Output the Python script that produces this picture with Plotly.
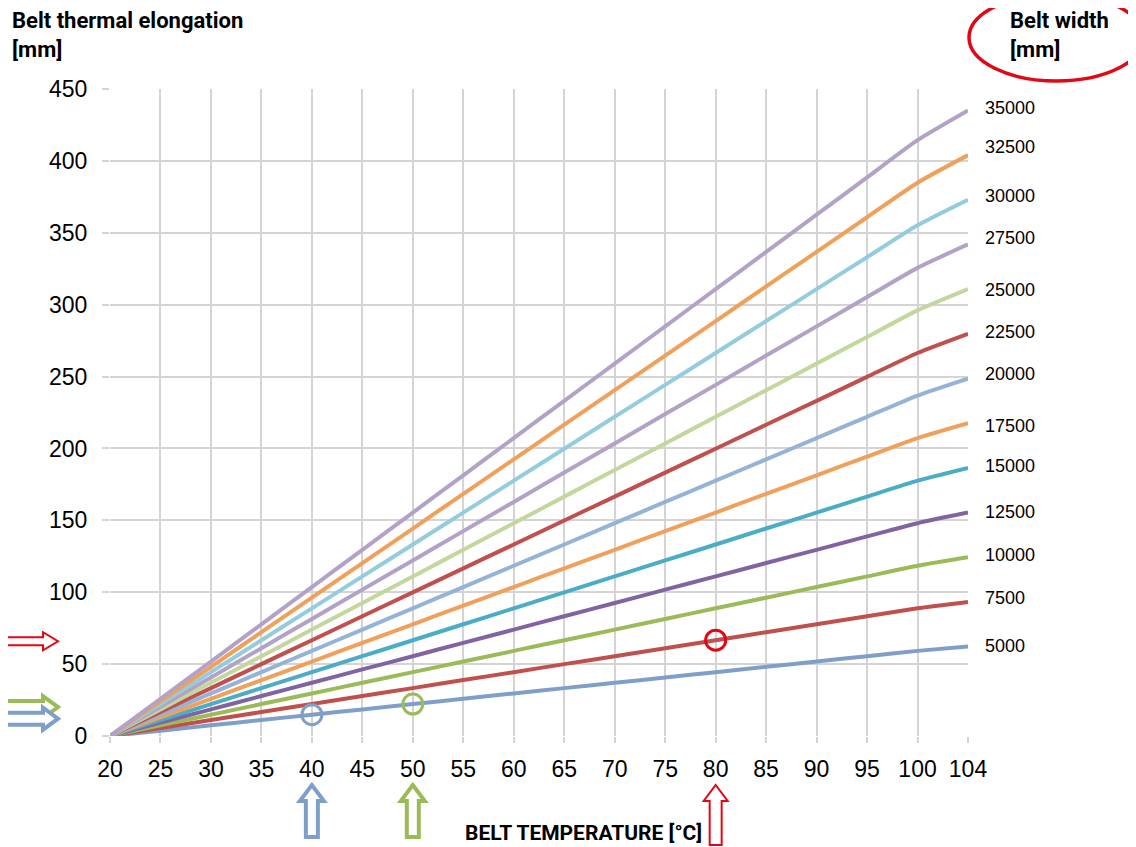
import plotly.graph_objects as go

# belt temperature categories (°C) - equally spaced on the chart, incl. 104
temps = ["20", "25", "30", "35", "40", "45", "50", "55", "60", "65",
         "70", "75", "80", "85", "90", "95", "100", "104"]

# thermal elongation [mm] per belt width [mm]
w5000 = [0, 3.7, 7.4, 11.1, 14.8, 18.5, 22.2, 25.9, 29.6, 33.3, 37.0, 40.7, 44.4, 48.1, 51.8, 55.5, 59.2, 62.2]
w7500 = [0, 5.6, 11.1, 16.7, 22.2, 27.8, 33.3, 38.9, 44.4, 50.0, 55.5, 61.1, 66.6, 72.2, 77.7, 83.3, 88.8, 93.2]
w10000 = [0, 7.4, 14.8, 22.2, 29.6, 37.0, 44.4, 51.8, 59.2, 66.6, 74.0, 81.4, 88.8, 96.2, 103.6, 111.0, 118.4, 124.3]
w12500 = [0, 9.3, 18.5, 27.8, 37.0, 46.3, 55.5, 64.8, 74.0, 83.3, 92.5, 101.8, 111.0, 120.3, 129.5, 138.8, 148.0, 155.4]
w15000 = [0, 11.1, 22.2, 33.3, 44.4, 55.5, 66.6, 77.7, 88.8, 99.9, 111.0, 122.1, 133.2, 144.3, 155.4, 166.5, 177.6, 186.5]
w17500 = [0, 13.0, 25.9, 38.9, 51.8, 64.8, 77.7, 90.7, 103.6, 116.6, 129.5, 142.5, 155.4, 168.4, 181.3, 194.3, 207.2, 217.6]
w20000 = [0, 14.8, 29.6, 44.4, 59.2, 74.0, 88.8, 103.6, 118.4, 133.2, 148.0, 162.8, 177.6, 192.4, 207.2, 222.0, 236.8, 248.6]
w22500 = [0, 16.7, 33.3, 50.0, 66.6, 83.3, 99.9, 116.6, 133.2, 149.9, 166.5, 183.2, 199.8, 216.5, 233.1, 249.8, 266.4, 279.7]
w25000 = [0, 18.5, 37.0, 55.5, 74.0, 92.5, 111.0, 129.5, 148.0, 166.5, 185.0, 203.5, 222.0, 240.5, 259.0, 277.5, 296.0, 310.8]
w27500 = [0, 20.4, 40.7, 61.1, 81.4, 101.8, 122.1, 142.5, 162.8, 183.2, 203.5, 223.9, 244.2, 264.6, 284.9, 305.3, 325.6, 341.9]
w30000 = [0, 22.2, 44.4, 66.6, 88.8, 111.0, 133.2, 155.4, 177.6, 199.8, 222.0, 244.2, 266.4, 288.6, 310.8, 333.0, 355.2, 373.0]
w32500 = [0, 24.1, 48.1, 72.2, 96.2, 120.3, 144.3, 168.4, 192.4, 216.5, 240.5, 264.6, 288.6, 312.7, 336.7, 360.8, 384.8, 404.0]
w35000 = [0, 25.9, 51.8, 77.7, 103.6, 129.5, 155.4, 181.3, 207.2, 233.1, 259.0, 284.9, 310.8, 336.7, 362.6, 388.5, 414.4, 435.1]

widths = ["5000", "7500", "10000", "12500", "15000", "17500", "20000",
          "22500", "25000", "27500", "30000", "32500", "35000"]
series = [w5000, w7500, w10000, w12500, w15000, w17500, w20000,
          w22500, w25000, w27500, w30000, w32500, w35000]
colors = ["#7F9FC9", "#C0504D", "#9BBB59", "#8064A2", "#4BACC6", "#F0A05A", "#95B3D7",
          "#C0504D", "#C3D69B", "#B3A2C7", "#93CDDD", "#F0A05A", "#B3A2C7"]
# small vertical nudges (px) of the width labels, as placed in the original
label_nudge = [1, 4, 2, 1, 2, -3, 5, 2, -1, 6, 4, 8, 2]

BLUE, GREEN, RED = "#7F9FC9", "#9BBB59", "#E30613"
# worked examples marked on the chart: (temperature, series, colour)
examples = [("40", w5000, BLUE), ("50", w5000, GREEN), ("80", w7500, RED)]

TITLE_FONT = "Liberation Sans Narrow, Arial Narrow, Roboto, sans-serif"
NUM_FONT = "Liberation Sans, Arial, sans-serif"

fig = go.Figure()
for name, vals, col in zip(widths, series, colors):
    fig.add_trace(go.Scatter(x=temps, y=vals, mode="lines", name=name,
                             line=dict(color=col, width=4, shape="spline", smoothing=0.6)))

for t, vals, col in examples:
    fig.add_trace(go.Scatter(x=[t], y=[vals[temps.index(t)]], mode="markers", showlegend=False,
                             marker=dict(symbol="circle-open", size=20, color=col,
                                         line=dict(width=3, color=col)),
                             cliponaxis=False))

# belt width labels at the right end of each line (category axis -> use index)
last = len(temps) - 1
for name, vals, nudge in zip(widths, series, label_nudge):
    fig.add_annotation(x=last, y=vals[-1], text=name, showarrow=False,
                       xanchor="left", xshift=15, yshift=nudge,
                       font=dict(family=NUM_FONT, size=18, color="black"))


def arrow(length, shaft, head, head_len, direction):
    """hollow block arrow path in pixels, tail at origin"""
    s, h, L, hl = shaft / 2, head / 2, length, head_len
    pts = [(0, -s), (L - hl, -s), (L - hl, -h), (L, 0), (L - hl, h), (L - hl, s), (0, s)]
    if direction == "up":
        pts = [(y, x) for x, y in pts]
    return pts


def path(pts, dx, dy):
    return "M " + " L ".join(f"{x + dx},{y + dy}" for x, y in pts) + " Z"


# horizontal arrows on the left, pointing at the read-off elongation
for yval, dy, col, lw, shaft, head in [(w7500[12], -1, RED, 2, 8, 18),
                                       (w5000[6], -3, GREEN, 4, 12, 22),
                                       (w5000[4], -4, BLUE, 4, 12, 22)]:
    fig.add_shape(type="path", xref="paper", yref="y", xsizemode="pixel", ysizemode="pixel",
                  xanchor=0, yanchor=yval, path=path(arrow(52, shaft, head, 15, "right"), -104, dy),
                  line=dict(color=col, width=lw), fillcolor="white", layer="above")

# vertical arrows below the temperature axis
for t, col, lw, L in [("40", BLUE, 4, 52), ("50", GREEN, 4, 52), ("80", RED, 2, 60)]:
    fig.add_shape(type="path", xref="x", yref="paper", xsizemode="pixel", ysizemode="pixel",
                  xanchor=temps.index(t), yanchor=0, path=path(arrow(L, 12, 24, 16, "up"), 0, -49 - L),
                  line=dict(color=col, width=lw), fillcolor="white", layer="above")

# red ellipse round the belt width heading
fig.add_shape(type="circle", xref="paper", yref="paper", xsizemode="pixel", ysizemode="pixel",
              xanchor=1, yanchor=1, x0=1, x1=176, y0=8, y1=95,
              line=dict(color=RED, width=3.5))

fig.add_annotation(xref="paper", yref="paper", x=-0.1166, y=1.128, xanchor="left", yanchor="top",
                   text="<b>Belt thermal elongation<br>[mm]</b>", showarrow=False, align="left",
                   font=dict(family=TITLE_FONT, size=22, color="black"))
fig.add_annotation(xref="paper", yref="paper", x=1.0466, y=1.128, xanchor="left", yanchor="top",
                   text="<b>Belt width<br>[mm]</b>", showarrow=False, align="left",
                   font=dict(family=TITLE_FONT, size=22, color="black"))
fig.add_annotation(xref="paper", yref="paper", x=0.5513, y=-0.150, xanchor="center", yanchor="middle",
                   text="<b>BELT TEMPERATURE [°C]</b>", showarrow=False,
                   font=dict(family=TITLE_FONT, size=21, color="black"))

# page body has an 8px margin, so the figure is 8px smaller and margins shifted
fig.update_layout(
    width=1128, height=839, autosize=False,
    margin=dict(l=102, r=168, t=81, b=111),
    plot_bgcolor="white", paper_bgcolor="white",
    showlegend=False,
    xaxis=dict(type="category", range=[0, 17], showgrid=True, gridcolor="#D4D4D4", gridwidth=1.5,
               ticks="outside", ticklen=6, tickcolor="#D4D4D4", tickwidth=1.5,
               tickfont=dict(family=NUM_FONT, size=23, color="black"), ticklabelstandoff=6,
               showline=False, zeroline=False),
    yaxis=dict(range=[0, 450], dtick=50, showgrid=True, gridcolor="#D4D4D4", gridwidth=1.5,
               ticks="outside", ticklen=7, tickcolor="#D4D4D4", tickwidth=1.5,
               tickfont=dict(family=NUM_FONT, size=23, color="black"), ticklabelstandoff=10,
               showline=False, zeroline=False),
)

fig.write_html("out.html")
